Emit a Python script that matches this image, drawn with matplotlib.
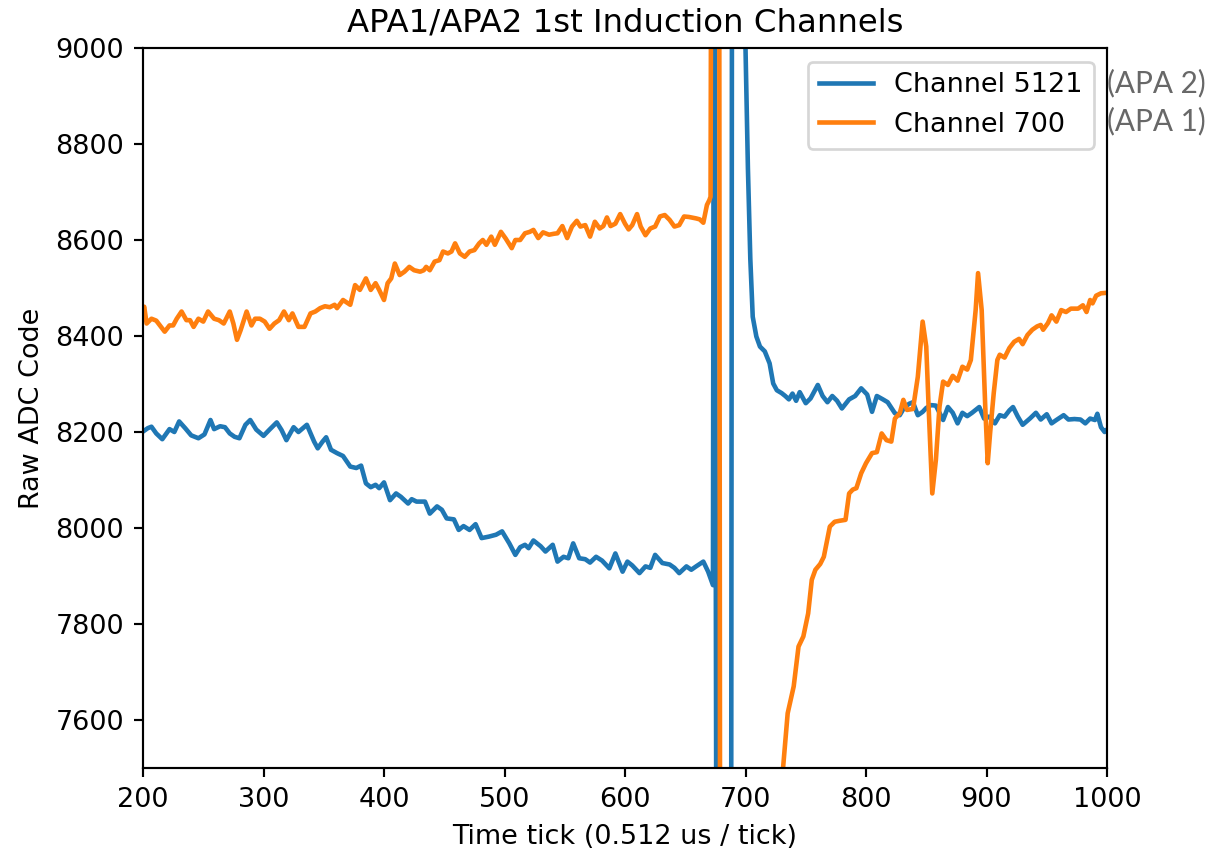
import matplotlib
matplotlib.use("Agg")
import matplotlib.pyplot as plt

# Channel 5121 (APA 2), first induction plane
ticks_5121 = [
    200, 204, 207, 211, 216, 222, 226, 230, 235, 240, 246, 251, 256, 259, 264, 268,
    272, 276, 280, 285, 289, 294, 300, 305, 311, 315, 319, 325, 329, 336, 342, 345,
    349, 352, 356, 361, 366, 372, 377, 381, 385, 389, 393, 396, 400, 405, 410, 414,
    420, 423, 427, 434, 438, 444, 448, 452, 458, 462, 466, 471, 476, 481, 487, 493,
    498, 504, 509, 513, 517, 520, 524, 530, 534, 540, 544, 549, 553, 557, 562, 567,
    571, 576, 581, 587, 592, 598, 602, 606, 612, 617, 621, 625, 631, 637, 641, 645,
    651, 655, 659, 665, 669, 673, 674, 676, 688, 689, 698, 700, 702, 704, 706, 709,
    712, 716, 720, 723, 726, 730, 733, 736, 739, 742, 745, 750, 754, 760, 764, 768,
    772, 776, 780, 786, 791, 796, 801, 805, 809, 814, 818, 824, 828, 832, 836, 839,
    843, 847, 850, 854, 858, 864, 868, 872, 876, 880, 884, 888, 894, 898, 902, 907,
    911, 915, 919, 922, 926, 930, 936, 941, 945, 950, 954, 958, 964, 968, 973, 978,
    982, 986, 990, 992, 995, 998, 1000,
]
adc_5121 = [
    8201, 8208, 8211, 8197, 8185, 8206, 8200, 8222, 8208, 8193, 8187, 8195, 8225, 8206, 8212, 8210,
    8197, 8190, 8187, 8215, 8225, 8205, 8192, 8205, 8220, 8204, 8183, 8210, 8200, 8215, 8180, 8166,
    8180, 8189, 8163, 8156, 8150, 8128, 8125, 8130, 8093, 8085, 8090, 8083, 8095, 8058, 8072, 8065,
    8051, 8060, 8055, 8055, 8030, 8045, 8038, 8020, 8018, 7996, 8004, 7996, 8008, 7979, 7982, 7986,
    7993, 7968, 7944, 7960, 7965, 7958, 7974, 7962, 7951, 7965, 7930, 7940, 7937, 7968, 7937, 7935,
    7928, 7940, 7932, 7916, 7947, 7909, 7930, 7922, 7906, 7920, 7917, 7944, 7927, 7924, 7917, 7906,
    7920, 7913, 7920, 7930, 7909, 7881, 9800, 7000, 7000, 9800, 9300, 9000, 8750, 8560, 8440, 8399,
    8378, 8368, 8343, 8301, 8287, 8281, 8275, 8268, 8280, 8265, 8283, 8260, 8270, 8298, 8275, 8262,
    8275, 8265, 8249, 8268, 8275, 8291, 8278, 8242, 8275, 8268, 8262, 8239, 8235, 8252, 8259, 8262,
    8235, 8242, 8250, 8256, 8255, 8225, 8252, 8240, 8218, 8240, 8233, 8240, 8252, 8228, 8232, 8218,
    8235, 8232, 8245, 8252, 8232, 8215, 8228, 8240, 8226, 8237, 8218, 8225, 8235, 8226, 8227, 8226,
    8218, 8228, 8225, 8238, 8210, 8200, 8205,
]

# Channel 700 (APA 1), first induction plane
ticks_700 = [
    200, 201, 203, 207, 211, 214, 218, 222, 225, 228, 232, 236, 239, 242, 246, 250,
    254, 259, 263, 267, 272, 275, 278, 281, 286, 290, 293, 297, 301, 305, 309, 313,
    317, 321, 324, 329, 334, 339, 343, 347, 351, 355, 359, 361, 366, 372, 376, 380,
    385, 389, 393, 396, 400, 403, 406, 409, 413, 417, 421, 425, 430, 433, 435, 438,
    442, 446, 449, 453, 456, 459, 463, 467, 471, 475, 479, 482, 485, 489, 492, 497,
    501, 506, 509, 513, 517, 521, 524, 528, 532, 537, 541, 544, 548, 552, 556, 560,
    563, 567, 571, 575, 579, 582, 585, 588, 592, 596, 600, 603, 606, 610, 613, 617,
    621, 625, 629, 633, 637, 641, 645, 649, 653, 659, 662, 665, 668, 670, 671, 672,
    678, 679, 730, 731, 735, 740, 744, 748, 752, 755, 758, 762, 765, 770, 774, 778,
    783, 786, 789, 792, 796, 800, 805, 809, 813, 817, 821, 824, 828, 831, 834, 839,
    843, 847, 850, 852, 855, 858, 861, 864, 868, 872, 876, 880, 884, 887, 891, 893,
    896, 899, 901, 903, 906, 909, 911, 915, 919, 923, 927, 930, 934, 938, 942, 945,
    947, 951, 954, 958, 962, 966, 970, 976, 980, 983, 986, 988, 991, 995, 1000,
]
adc_700 = [
    8455, 8461, 8426, 8436, 8432, 8422, 8409, 8422, 8422, 8436, 8451, 8433, 8433, 8419, 8436, 8430,
    8451, 8436, 8433, 8426, 8451, 8426, 8392, 8412, 8451, 8422, 8436, 8436, 8430, 8415, 8426, 8433,
    8451, 8433, 8447, 8419, 8419, 8447, 8451, 8458, 8462, 8460, 8465, 8458, 8475, 8465, 8506, 8496,
    8520, 8496, 8510, 8496, 8475, 8510, 8520, 8551, 8527, 8534, 8544, 8537, 8534, 8537, 8544, 8537,
    8555, 8558, 8576, 8572, 8576, 8593, 8572, 8565, 8576, 8579, 8593, 8600, 8590, 8607, 8590, 8617,
    8603, 8583, 8600, 8600, 8614, 8617, 8621, 8604, 8616, 8611, 8613, 8614, 8629, 8604, 8628, 8640,
    8628, 8631, 8607, 8638, 8624, 8629, 8647, 8629, 8634, 8654, 8634, 8622, 8631, 8654, 8628, 8610,
    8624, 8628, 8649, 8652, 8642, 8628, 8631, 8649, 8648, 8645, 8643, 8636, 8673, 8683, 8690, 9800,
    9800, 7000, 7460, 7495, 7614, 7670, 7753, 7774, 7822, 7892, 7913, 7925, 7940, 8003, 8013, 8015,
    8017, 8072, 8080, 8083, 8114, 8135, 8156, 8158, 8197, 8183, 8180, 8228, 8239, 8267, 8246, 8248,
    8315, 8430, 8378, 8250, 8072, 8142, 8253, 8305, 8298, 8317, 8307, 8336, 8330, 8350, 8454, 8531,
    8454, 8250, 8135, 8198, 8281, 8350, 8361, 8355, 8375, 8388, 8394, 8383, 8402, 8413, 8420, 8423,
    8413, 8427, 8443, 8430, 8454, 8450, 8457, 8457, 8464, 8450, 8475, 8468, 8484, 8489, 8490,
]

series_labels = ["Channel 5121", "Channel 700"]
apa_notes = ["(APA 2)", "(APA 1)"]

DPI = 194.4
fig = plt.figure(figsize=(1215 / DPI, 848 / DPI), dpi=DPI)
ax = fig.add_axes([143 / 1215, 1 - 768 / 848, 964 / 1215, 720 / 848])

ax.plot(ticks_5121, adc_5121, color="#1f77b4", lw=1.7, label=series_labels[0])
ax.plot(ticks_700, adc_700, color="#ff7f0e", lw=1.7, label=series_labels[1])

ax.set_xlim(200, 1000)
ax.set_ylim(7500, 9000)
ax.set_title("APA1/APA2 1st Induction Channels")
ax.set_xlabel("Time tick (0.512 us / tick)")
ax.set_ylabel("Raw ADC Code")
ax.legend(loc="upper right")

# Plane notes beside the legend entries
fig.text(1107 / 1215, 1 - 83 / 848, apa_notes[0], color="#686868",
         fontsize=11, family=["Lato", "DejaVu Sans"], ha="left", va="center")
fig.text(1107 / 1215, 1 - 121 / 848, apa_notes[1], color="#686868",
         fontsize=11, family=["Lato", "DejaVu Sans"], ha="left", va="center")

fig.savefig("out.png", dpi=DPI)
